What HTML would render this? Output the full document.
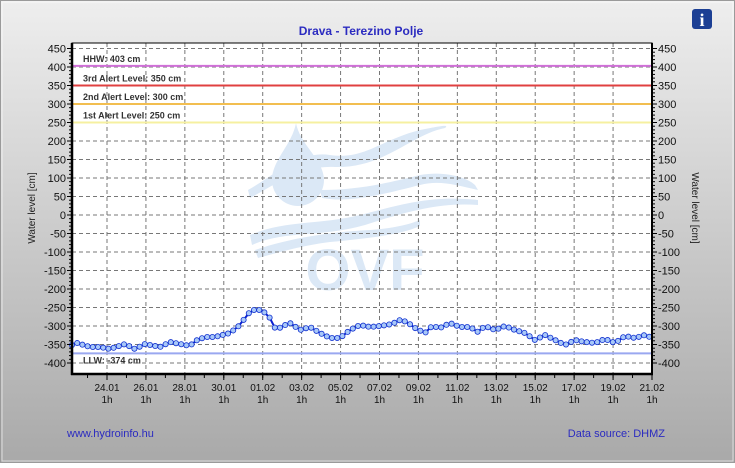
<!DOCTYPE html>
<html><head><meta charset="utf-8"><style>
html,body{margin:0;padding:0;}
body{width:735px;height:463px;overflow:hidden;font-family:"Liberation Sans",sans-serif;}
</style></head><body>
<svg id="s" width="735" height="463" xmlns="http://www.w3.org/2000/svg" font-family="Liberation Sans, sans-serif">
<defs>
<linearGradient id="bg" x1="0" y1="0" x2="0" y2="1">
<stop offset="0" stop-color="#eeeeee"/><stop offset="1" stop-color="#a9a9a9"/>
</linearGradient>
</defs>
<rect x="0" y="0" width="735" height="463" fill="url(#bg)"/>
<rect x="0.5" y="0.5" width="734" height="462" fill="none" stroke="#9a9a9a"/>
<rect x="2" y="2" width="731" height="459" fill="none" stroke="#ffffff" stroke-opacity="0.6"/>
<text x="361" y="35" text-anchor="middle" font-size="12" font-weight="bold" fill="#2b2bc0">Drava - Terezino Polje</text>
<rect x="692" y="9" width="20" height="20" rx="3" fill="#1c3f94"/>
<text x="702" y="26" text-anchor="middle" font-size="18" font-weight="bold" fill="#fff" font-family="Liberation Serif, serif">i</text>
<rect x="72" y="43" width="580" height="331" fill="#ffffff"/>
<g id="wm" fill="#dbe8f6" stroke="none">
<path d="M296 123 C292 145 272 160 272 180 A26 26 0 0 0 324 180 C324 160 300 145 296 123Z"/>
<path d="M248 190 C275 175 300 150 330 155 C365 160 380 140 420 130 C440 126 450 124 445 128 C410 135 385 168 335 167 C300 165 275 185 250 198Z"/>
<path d="M320 190 C355 190 380 185 420 175 C450 170 470 180 475 185 L478 190 C455 185 440 180 420 185 C380 195 350 203 322 198Z"/>
<path d="M250 235 C285 220 320 225 360 215 C400 205 430 195 478 200 L478 205 C440 202 405 212 365 225 C320 238 285 230 252 245Z"/>
<path d="M255 250 C290 238 330 232 370 230 C400 228 415 222 420 220 L420 226 C400 235 370 238 330 242 C300 246 280 252 258 258Z"/>
<text x="365" y="290" text-anchor="middle" font-size="58" font-weight="bold">OVF</text>
</g>
<g id="grid" stroke="#777" stroke-dasharray="4,3" stroke-width="1"></g>
<g id="lines"></g>
<g id="series"></g>
<rect x="72" y="43" width="580" height="331" fill="none" stroke="#000" stroke-width="1"/>
<line x1="72" y1="43" x2="72" y2="375" stroke="#000" stroke-width="2.5"/>
<line x1="71" y1="374" x2="653" y2="374" stroke="#000" stroke-width="2.5"/>
<line x1="652" y1="43" x2="652" y2="375" stroke="#000" stroke-width="2"/>
<g id="ticks" stroke="#000"></g>
<g id="labels" font-size="11" fill="#111"></g>
<text transform="translate(35,208) rotate(-90)" text-anchor="middle" font-size="10" fill="#222">Water level [cm]</text>
<text transform="translate(692,208) rotate(90)" text-anchor="middle" font-size="10" fill="#222">Water level [cm]</text>
<text x="67" y="437" font-size="11" fill="#2b2bc0">www.hydroinfo.hu</text>
<text x="665" y="437" text-anchor="end" font-size="11" fill="#2b2bc0">Data source: DHMZ</text>
</svg>
<script>
var NS="http://www.w3.org/2000/svg";
function el(p,t,a,txt){var e=document.createElementNS(NS,t);for(var k in a)e.setAttribute(k,a[k]);if(txt!=null)e.textContent=txt;document.getElementById(p).appendChild(e);return e;}
function Y(v){return 215-v*18.5/50;}
var L=72,R=652;
for(var v=-400;v<=450;v+=50){var y=Y(v);
 el("grid","line",{x1:L,y1:y,x2:R,y2:y});
 el("labels","text",{x:L-6,y:y+4,"text-anchor":"end"},v);
 el("labels","text",{x:R+6,y:y+4},v);
 el("ticks","line",{x1:L-5,y1:y,x2:L,y2:y});
 el("ticks","line",{x1:R,y1:y,x2:R+5,y2:y});
}
for(var v=-400;v<=450;v+=10){var y=Y(v);
 el("ticks","line",{x1:L-3,y1:y,x2:L,y2:y});el("ticks","line",{x1:R,y1:y,x2:R+3,y2:y});}
var dates=["24.01","26.01","28.01","30.01","01.02","03.02","05.02","07.02","09.02","11.02","13.02","15.02","17.02","19.02","21.02"];
var step=(652-107)/14;
for(var i=0;i<15;i++){var x=107+i*step;
 if(i<14)el("grid","line",{x1:x,y1:43,x2:x,y2:374});
 el("ticks","line",{x1:x,y1:374,x2:x,y2:380});
 el("labels","text",{x:x,y:391,"text-anchor":"middle","font-size":"10"},dates[i]);
 el("labels","text",{x:x,y:403,"text-anchor":"middle","font-size":"10"},"1h");}
for(var x=107-step*2;x<=653;x+=step/2){if(x>=72)el("ticks","line",{x1:x,y1:374,x2:x,y2:378});}
var al=[[403,"#d070d8","HHW: 403 cm"],[350,"#e04040","3rd Alert Level: 350 cm"],[300,"#f2be50","2nd Alert Level: 300 cm"],[250,"#f6f0a0","1st Alert Level: 250 cm"]];
al.forEach(function(a){var y=Y(a[0]);el("lines","line",{x1:L,y1:y,x2:R,y2:y,stroke:a[1],"stroke-width":2});
 el("lines","text",{x:83,y:y-4,"font-size":"9","font-weight":"bold",fill:"#333"},a[2]);});
var yl=Y(-374);el("lines","line",{x1:L,y1:yl,x2:R,y2:yl,stroke:"#9aa8f0","stroke-width":2});
el("lines","text",{x:83,y:yl+10,"font-size":"9","font-weight":"bold",fill:"#333"},"LLW: -374 cm");
var k=[[72,345],[77,343],[90,347],[100,347],[110,349],[125,344],[135,349],[145,344],[160,347],[170,342],[190,346],[195,341],[205,337],[215,337],[230,333],[240,325],[247,315],[252,310],[262,310],[270,318],[276,330],[283,326],[290,323],[300,330],[310,327],[320,333],[330,338],[340,338],[350,330],[360,325],[370,327],[380,326],[392,324],[400,320],[407,322],[415,328],[425,333],[432,326],[440,328],[450,323],[460,327],[470,327],[478,332],[485,326],[495,330],[505,326],[515,330],[525,333],[535,340],[545,335],[555,340],[565,345],[575,340],[585,342],[595,343],[605,339],[615,343],[625,336],[635,338],[645,335],[652,338]];
function iy(x){for(var i=0;i<k.length-1;i++){if(x>=k[i][0]&&x<=k[i+1][0]){var t=(x-k[i][0])/(k[i+1][0]-k[i][0]);return k[i][1]+t*(k[i+1][1]-k[i][1]);}}return k[k.length-1][1];}
var pts=[];for(var x=72;x<=652.1;x+=5.2)pts.push([x,iy(x)]);
el("series","polyline",{points:pts.map(function(p){return p[0]+","+p[1]}).join(" "),fill:"none",stroke:"#0a1fd0","stroke-width":2});
pts.forEach(function(p){el("series","circle",{cx:p[0],cy:p[1],r:2.6,fill:"#a8c8f8",stroke:"#1030d0","stroke-width":0.8});});
</script>
</body></html>
